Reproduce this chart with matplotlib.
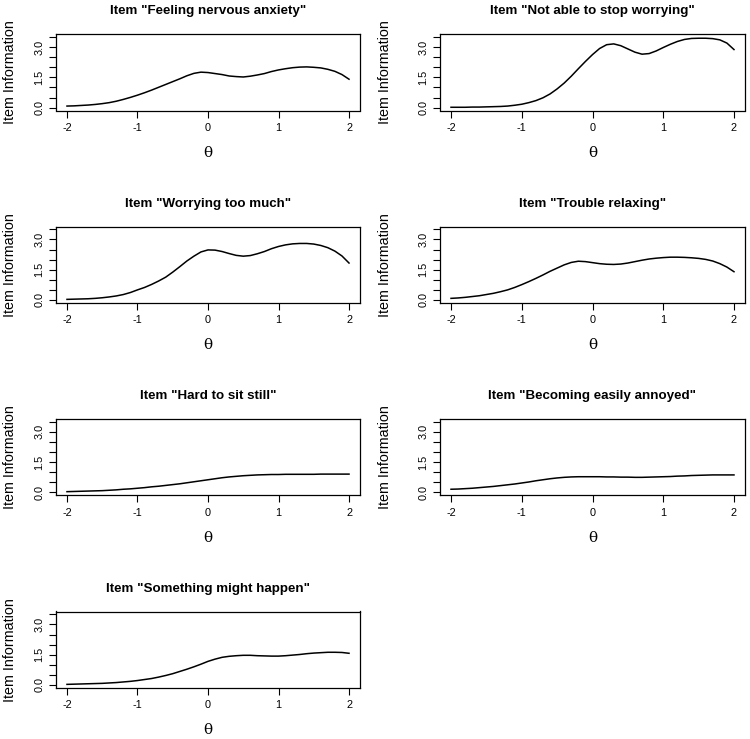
import matplotlib
matplotlib.use('Agg')
import matplotlib.pyplot as plt
import numpy as np

# theta grid (-2 .. 2, step 0.1)
theta = np.round(np.arange(-2.0, 2.0001, 0.1), 1)

titles = ['Item "Feeling nervous anxiety"', 'Item "Not able to stop worrying"',
          'Item "Worrying too much"', 'Item "Trouble relaxing"',
          'Item "Hard to sit still"', 'Item "Becoming easily annoyed"',
          'Item "Something might happen"']

info_nervous = [0.08, 0.09, 0.11, 0.13, 0.16, 0.20, 0.25, 0.32, 0.41, 0.51, 0.62,
                0.74, 0.87, 1.01, 1.15, 1.29, 1.43, 1.58, 1.70, 1.76, 1.74,
                1.69, 1.64, 1.57, 1.54, 1.52, 1.56, 1.62, 1.69, 1.79, 1.87,
                1.93, 1.98, 2.01, 2.02, 2.00, 1.97, 1.90, 1.80, 1.64, 1.41]
info_stop = [0.02, 0.02, 0.02, 0.03, 0.03, 0.04, 0.05, 0.06, 0.08, 0.12, 0.17,
             0.25, 0.35, 0.49, 0.68, 0.93, 1.22, 1.56, 1.93, 2.29, 2.63,
             2.93, 3.12, 3.16, 3.07, 2.91, 2.75, 2.65, 2.68, 2.81, 2.98,
             3.14, 3.28, 3.38, 3.43, 3.44, 3.44, 3.42, 3.36, 3.20, 2.88]
info_worry = [0.03, 0.04, 0.05, 0.06, 0.08, 0.11, 0.15, 0.20, 0.27, 0.37, 0.50,
              0.62, 0.77, 0.94, 1.13, 1.38, 1.65, 1.93, 2.17, 2.38, 2.48,
              2.47, 2.40, 2.30, 2.21, 2.17, 2.20, 2.29, 2.40, 2.54, 2.65,
              2.73, 2.78, 2.80, 2.80, 2.77, 2.70, 2.59, 2.42, 2.18, 1.83]
info_relax = [0.08, 0.10, 0.13, 0.17, 0.21, 0.27, 0.33, 0.41, 0.50, 0.62, 0.76,
              0.91, 1.07, 1.24, 1.42, 1.58, 1.74, 1.86, 1.92, 1.90, 1.85,
              1.80, 1.77, 1.76, 1.78, 1.83, 1.90, 1.97, 2.03, 2.07, 2.10,
              2.12, 2.12, 2.11, 2.09, 2.06, 2.01, 1.93, 1.80, 1.63, 1.40]
info_still = [0.03, 0.04, 0.05, 0.06, 0.07, 0.08, 0.10, 0.12, 0.15, 0.17, 0.20,
              0.23, 0.27, 0.30, 0.34, 0.38, 0.42, 0.47, 0.52, 0.57, 0.62,
              0.67, 0.72, 0.76, 0.79, 0.82, 0.84, 0.86, 0.87, 0.88, 0.88,
              0.89, 0.89, 0.89, 0.89, 0.89, 0.90, 0.90, 0.90, 0.90, 0.90]
info_annoyed = [0.15, 0.16, 0.18, 0.20, 0.23, 0.26, 0.29, 0.33, 0.37, 0.41, 0.46,
                0.51, 0.57, 0.62, 0.67, 0.71, 0.74, 0.76, 0.77, 0.77, 0.77,
                0.77, 0.76, 0.76, 0.75, 0.75, 0.74, 0.74, 0.75, 0.76, 0.77,
                0.78, 0.80, 0.81, 0.83, 0.84, 0.85, 0.86, 0.86, 0.86, 0.86]
info_happen = [0.03, 0.04, 0.05, 0.06, 0.07, 0.08, 0.10, 0.12, 0.15, 0.18, 0.22,
               0.27, 0.32, 0.39, 0.47, 0.56, 0.67, 0.78, 0.90, 1.03, 1.17,
               1.28, 1.37, 1.42, 1.45, 1.47, 1.47, 1.45, 1.44, 1.43, 1.43,
               1.45, 1.48, 1.51, 1.55, 1.58, 1.60, 1.62, 1.62, 1.61, 1.57]

series = [info_nervous, info_stop, info_worry, info_relax,
          info_still, info_annoyed, info_happen]

xticks = [-2, -1, 0, 1, 2]
yticks = [0.0, 0.5, 1.0, 1.5, 2.0, 2.5, 3.0, 3.5]
ylabels_shown = [0.0, 1.5, 3.0]

fig = plt.figure(figsize=(7.5, 7.39), dpi=100)

# axes boxes in pixels (R style mfrow 4x2)
W, H = 750, 739
col_left = [55.7, 439.7]
col_width = [304.6, 305.6]
row_top = [34.2, 226.5, 418.8, 611.5]
ax_h = 76.3
ylab_x = [-0.150, -0.179]

for i, (title, vals) in enumerate(zip(titles, series)):
    r, c = divmod(i, 2)
    ax = fig.add_axes([col_left[c] / W, 1 - (row_top[r] + ax_h) / H,
                       col_width[c] / W, ax_h / H])
    ax.plot(theta, vals, color='black', lw=1.1)
    ax.set_xlim(-2.16, 2.16)
    ax.set_ylim(-0.14, 3.64)
    ax.set_xticks(xticks)
    ax.set_xticklabels([str(t) for t in xticks])
    ax.set_yticks(yticks)
    ax.set_yticklabels([f'{t:.1f}' if t in ylabels_shown else '' for t in yticks],
                       rotation=90, va='center')
    ax.tick_params(length=5, width=0.8, labelsize=7.8, color='black')
    ax.tick_params(axis='x', pad=4)
    ax.tick_params(axis='y', pad=3)
    for lab in ax.get_xticklabels() + ax.get_yticklabels():
        lab.set_family('Liberation Sans')
    for sp in ax.spines.values():
        sp.set_linewidth(0.9)
    ax.set_title(title, fontsize=9.6, fontweight='bold', family='Liberation Sans',
                 y=1.30, va='center', pad=0)
    ax.set_ylabel('Item Information', fontsize=10.3, family='Liberation Sans',
                  va='center')
    ax.yaxis.set_label_coords(ylab_x[c], 0.5)
    ax.set_xlabel('θ', fontsize=11, family='DejaVu Serif')
    ax.xaxis.set_label_coords(0.5, -0.557)
    ax.xaxis.label.set_va('center')

fig.savefig('out.png', dpi=100)
